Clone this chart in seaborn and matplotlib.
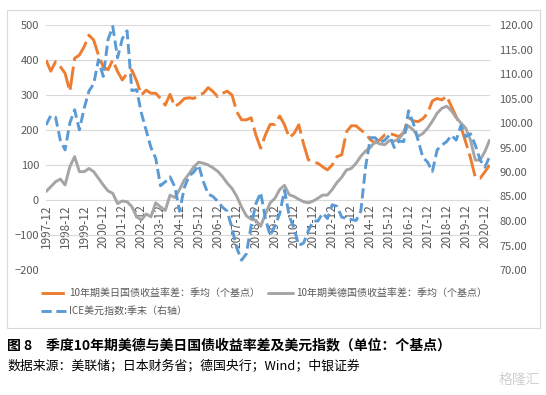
import numpy as np
import pandas as pd
import matplotlib
matplotlib.use("Agg")
import matplotlib.pyplot as plt
import seaborn as sns
from matplotlib.patches import Rectangle
from matplotlib.ticker import MultipleLocator, FormatStrFormatter

sns.set_style("white")
plt.rcParams['font.family'] = ['Noto Sans CJK SC', 'DejaVu Sans']

# quarters 1997-12 .. 2021-03
quarters = [f"{y}-{m:02d}" for y in range(1997, 2022) for m in (3, 6, 9, 12)][3:-3]

# 10y US-Japan spread, quarterly avg (bp)
us_jp = [400, 368, 395, 381, 362, 310, 405, 414, 438, 471,
         457, 414, 380, 372, 400, 367, 343, 362, 371, 340,
         300, 314, 305, 305, 290, 271, 302, 267, 276, 290,
         292, 290, 300, 305, 321, 310, 295, 305, 311, 300,
         252, 229, 229, 235, 186, 148, 186, 216, 216, 240,
         215, 178, 190, 215, 160, 115, 108, 105, 95, 86,
         100, 124, 129, 195, 212, 212, 200, 190, 172, 163,
         172, 186, 190, 186, 181, 193, 236, 226, 224, 232,
         248, 283, 290, 286, 297, 267, 238, 209, 165, 120,
         65, 62, 80, 100]

# 10y US-Germany spread, quarterly avg (bp)
us_de = [24, 38, 52, 60, 43, 95, 124, 81, 81, 90,
         81, 62, 43, 26, 19, -10, -3, -5, -19, -48,
         -57, -40, -48, -8, -20, -30, 14, 7, 30, 57,
         75, 95, 108, 105, 100, 92, 82, 67, 48, 33,
         10, -20, -45, -55, -58, -75, -40, -8, 5, 30,
         42, 15, 10, 2, -5, -8, -3, 5, 14, 14,
         30, 50, 65, 86, 90, 105, 125, 140, 150, 167,
         160, 158, 170, 168, 175, 192, 212, 200, 182, 190,
         205, 225, 248, 262, 268, 255, 235, 220, 205, 171,
         114, 114, 138, 171]

# ICE dollar index, quarter end (right axis)
dxy = [99.6, 101.5, 101.2, 96.5, 94.5, 100.0, 102.7, 98.6, 103.0, 106.5,
       108.0, 112.9, 109.5, 117.0, 119.7, 113.3, 117.2, 118.8, 106.6, 106.8,
       102.0, 98.5, 95.0, 92.8, 87.2, 88.0, 89.0, 87.0, 82.0, 86.8,
       89.2, 90.0, 91.4, 88.0, 85.5, 85.0, 84.0, 82.8, 82.0, 78.5,
       74.5, 72.0, 73.3, 79.0, 83.5, 85.8, 80.5, 77.0, 79.0, 81.5,
       86.3, 81.0, 78.5, 75.0, 75.5, 78.0, 80.0, 80.0, 81.6, 80.5,
       83.3, 83.0, 80.8, 80.5, 80.3, 80.1, 82.0, 91.0, 97.0, 97.0,
       96.0, 96.5, 97.5, 95.0, 96.3, 96.2, 102.5, 100.0, 96.5, 93.0,
       92.0, 90.1, 94.5, 95.5, 96.2, 97.5, 96.5, 99.5, 97.2, 97.8,
       95.5, 92.5, 91.0, 93.1]

labels = ['10年期美日国债收益率差：季均（个基点）',
          '10年期美德国债收益率差：季均（个基点）',
          'ICE美元指数:季末（右轴）']

df = pd.DataFrame({'quarter': quarters, 'us_jp': us_jp, 'us_de': us_de, 'dxy': dxy})
df['pos'] = np.arange(len(df))

W, H = 546, 395
fig = plt.figure(figsize=(W / 100, H / 100), dpi=100)
fig.patch.set_facecolor('white')

# outer chart border
fig.patches.append(Rectangle((7 / W, 1 - 328 / H), 533 / W, 318 / H, transform=fig.transFigure,
                             fill=False, edgecolor='#d9d9d9', lw=0.8))

ax = fig.add_axes([46 / W, 1 - 270 / H, 443.6 / W, 245 / H])
ax2 = ax.twinx()

orange, grey, blue = '#ED7D31', '#A5A5A5', '#5B9BD5'
sns.lineplot(data=df, x='pos', y='us_jp', ax=ax, color=orange, lw=2.1, linestyle=(0, (8, 2)))
sns.lineplot(data=df, x='pos', y='us_de', ax=ax, color=grey, lw=2.1)
sns.lineplot(data=df, x='pos', y='dxy', ax=ax2, color=blue, lw=2.1, linestyle=(0, (3.5, 1.6)))

ax.set_xlim(0, len(df) - 1)
ax.set_ylim(-200, 500)
ax2.set_ylim(70, 120)
ax.yaxis.set_major_locator(MultipleLocator(100))
ax2.yaxis.set_major_locator(MultipleLocator(5))
ax2.yaxis.set_major_formatter(FormatStrFormatter('%.2f'))

# x axis crosses at 0 (set before tick labels, it resets ticks)
ax.spines['bottom'].set_position(('data', 0))
ax.set_xticks(df['pos'][::4])
ax.set_xticklabels(df['quarter'][::4])

for a in (ax, ax2):
    for s in a.spines.values():
        s.set_visible(False)
    a.set_xlabel('')
    a.set_ylabel('')
ax.yaxis.grid(True, color='#d9d9d9', lw=0.8)
ax.set_axisbelow(True)
ax.tick_params(axis='y', length=0, labelsize=8, labelcolor='#595959', pad=5)
ax.tick_params(axis='x', length=0, labelsize=8.5, labelcolor='#595959', pad=3, labelrotation=90)
ax2.tick_params(axis='y', length=0, labelsize=8, labelcolor='#595959', pad=7)

lines = [ax.lines[0], ax.lines[1], ax2.lines[0]]
fig.legend([lines[0], lines[2], lines[1]], [labels[0], labels[2], labels[1]],
           ncol=2, loc='upper left', bbox_to_anchor=(36 / W, 1 - 283 / H),
           frameon=False, fontsize=7.2, handlelength=2.5, handletextpad=0.3,
           columnspacing=0.8, labelspacing=0.8, borderpad=0, labelcolor='#595959')

fig.text(7 / W, 1 - 345 / H, '图 8　季度10年期美德与美日国债收益率差及美元指数（单位：个基点）',
         fontsize=10, fontweight='bold', va='center', ha='left', color='black')
fig.text(7 / W, 1 - 367 / H, '数据来源：美联储；日本财务省；德国央行；Wind；中银证券',
         fontsize=9.3, va='center', ha='left', color='black')
fig.text(540 / W, 1 - 380 / H, '格隆汇', fontsize=10, va='center', ha='right', color='#d0d0d0')

fig.savefig('out.png', dpi=100)
